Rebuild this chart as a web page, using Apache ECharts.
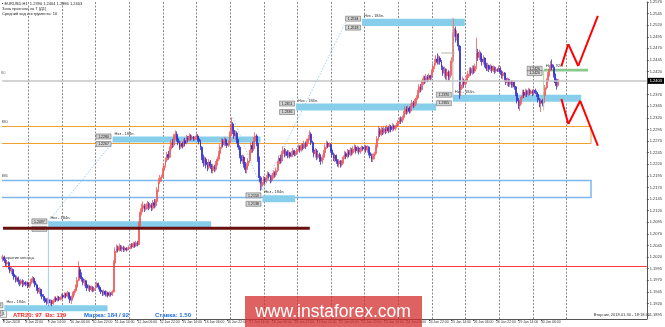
<!DOCTYPE html>
<html>
<head>
<meta charset="utf-8">
<script src="https://cdn.jsdelivr.net/npm/echarts@6.0.0/dist/echarts.min.js"></script>
<style>
html,body{margin:0;padding:0;background:#ffffff;overflow:hidden}
#chart{width:665px;height:327px}
</style>
</head>
<body>
<div id="chart"></div>
<script>
// ================= DATA (EURUSD, H1, 8 Jan 2018 06:00 .. 30 Jan 2018 18:00) =================
const firstOpen = 1.2015;
const closes = [
1.2019,1.2013,1.2005,1.2008,1.1997,1.1990,1.1993,1.1983,1.1977,1.1971,1.1975,1.1967,1.1963,1.1969,1.1961,1.1965,1.1962,1.1964,
1.1957,1.1963,1.1970,1.1974,1.1967,1.1960,1.1953,1.1945,1.1950,1.1939,1.1935,1.1931,1.1927,1.1923,1.1928,1.1921,1.1925,1.1920,1.1926,1.1931,1.1927,1.1933,1.1929,1.1932,
1.1937,1.1934,1.1940,1.1936,1.1943,1.1935,1.1927,1.1933,1.1941,1.1947,1.1955,1.1970,1.1993,1.1980,1.1973,1.1965,1.1969,1.1960,1.1953,1.1957,1.1950,1.1955,1.1948,1.1952,
1.1957,1.1963,1.1955,1.1949,1.1945,1.1941,1.1946,1.1939,1.1943,1.1937,1.1942,1.1939,1.1945,1.2007,1.2033,1.2039,1.2035,1.2043,1.2037,1.2041,1.2035,1.2039,1.2036,1.2038,
1.2041,1.2045,1.2042,1.2049,1.2044,1.2051,1.2047,1.2091,1.2117,1.2125,1.2131,1.2123,1.2129,1.2135,1.2127,1.2133,1.2125,1.2137,1.2131,1.2140,1.2165,1.2183,1.2189,1.2192,
1.2207,1.2217,1.2229,1.2241,1.2235,1.2253,1.2267,1.2261,1.2279,1.2285,1.2275,1.2267,1.2257,1.2265,1.2259,1.2271,1.2265,1.2277,1.2273,1.2281,1.2275,1.2279,1.2274,1.2277,
1.2281,1.2275,1.2269,1.2257,1.2235,1.2223,1.2231,1.2219,1.2213,1.2225,1.2217,1.2207,1.2215,1.2209,1.2221,1.2231,1.2243,1.2257,1.2269,1.2263,1.2273,1.2265,1.2261,1.2267,
1.2285,1.2307,1.2293,1.2281,1.2287,1.2271,1.2257,1.2239,1.2227,1.2235,1.2221,1.2209,1.2217,1.2227,1.2245,1.2261,1.2253,1.2271,1.2281,1.2265,1.2233,1.2191,1.2173,1.2181,
1.2189,1.2183,1.2191,1.2199,1.2193,1.2185,1.2193,1.2201,1.2197,1.2207,1.2221,1.2233,1.2227,1.2243,1.2251,1.2241,1.2247,1.2239,1.2245,1.2237,1.2243,1.2249,1.2241,1.2245,
1.2251,1.2257,1.2251,1.2261,1.2255,1.2265,1.2259,1.2269,1.2275,1.2285,1.2267,1.2251,1.2243,1.2249,1.2235,1.2241,1.2231,1.2227,1.2235,1.2245,1.2257,1.2265,1.2259,1.2263,
1.2251,1.2241,1.2233,1.2239,1.2227,1.2221,1.2227,1.2219,1.2225,1.2235,1.2243,1.2237,1.2247,1.2241,1.2251,1.2245,1.2253,1.2257,1.2249,1.2255,1.2247,1.2253,1.2257,1.2253,
1.2259,1.2251,1.2257,1.2245,1.2239,1.2231,1.2237,1.2243,1.2257,1.2275,1.2293,1.2285,1.2295,1.2289,1.2297,1.2291,1.2299,1.2293,1.2301,1.2295,1.2303,1.2297,1.2301,1.2305,
1.2311,1.2317,1.2313,1.2321,1.2329,1.2339,1.2333,1.2341,1.2335,1.2345,1.2353,1.2347,1.2355,1.2363,1.2375,1.2387,1.2381,1.2395,1.2405,1.2399,1.2409,1.2403,1.2411,1.2407,
1.2419,1.2431,1.2439,1.2447,1.2441,1.2449,1.2441,1.2429,1.2417,1.2425,1.2411,1.2419,1.2407,1.2415,1.2443,1.2495,1.2513,1.2495,1.2501,1.2475,1.2381,1.2391,1.2401,1.2393,
1.2399,1.2407,1.2415,1.2423,1.2417,1.2427,1.2421,1.2431,1.2461,1.2451,1.2459,1.2447,1.2441,1.2449,1.2435,1.2427,1.2433,1.2425,1.2431,1.2423,1.2429,1.2421,1.2425,1.2423,
1.2427,1.2419,1.2411,1.2417,1.2405,1.2397,1.2403,1.2393,1.2399,1.2391,1.2397,1.2387,1.2373,1.2357,1.2347,1.2355,1.2365,1.2375,1.2369,1.2377,1.2371,1.2379,1.2373,1.2377,
1.2373,1.2379,1.2375,1.2371,1.2359,1.2351,1.2357,1.2353,1.2369,1.2385,1.2399,1.2413,1.2425,1.2435,1.2429,1.2415,1.2401,1.2390,1.2403
];
const highs = [
1.2025,1.2023,1.2017,1.2013,1.2011,1.2001,1.1999,1.1995,1.1987,1.1981,1.1980,1.1978,1.1971,1.1973,1.1972,1.1969,1.1968,1.1967,
1.1967,1.1966,1.1973,1.1979,1.1977,1.1970,1.1963,1.1957,1.1955,1.1952,1.1943,1.1940,1.1935,1.1931,1.1932,1.1930,1.1929,1.1928,1.1930,1.1935,1.1935,1.1937,1.1936,1.1935,
1.1941,1.1941,1.1944,1.1943,1.1947,1.1945,1.1939,1.1937,1.1945,1.1951,1.1961,1.1977,1.2011,1.1999,1.1987,1.1977,1.1973,1.1971,1.1963,1.1961,1.1959,1.1958,1.1957,1.1955,
1.1961,1.1967,1.1965,1.1959,1.1953,1.1948,1.1950,1.1948,1.1947,1.1945,1.1946,1.1944,1.1949,1.2013,1.2041,1.2047,1.2045,1.2049,1.2046,1.2045,1.2044,1.2043,1.2041,1.2041,
1.2045,1.2048,1.2050,1.2053,1.2052,1.2055,1.2055,1.2097,1.2125,1.2135,1.2140,1.2135,1.2134,1.2141,1.2139,1.2137,1.2136,1.2143,1.2145,1.2145,1.2171,1.2190,1.2197,1.2198,
1.2213,1.2223,1.2235,1.2247,1.2249,1.2259,1.2273,1.2275,1.2285,1.2293,1.2291,1.2281,1.2271,1.2270,1.2269,1.2275,1.2277,1.2283,1.2281,1.2287,1.2285,1.2283,1.2281,1.2280,
1.2287,1.2285,1.2279,1.2273,1.2259,1.2241,1.2237,1.2235,1.2225,1.2231,1.2229,1.2221,1.2221,1.2219,1.2227,1.2237,1.2249,1.2263,1.2277,1.2275,1.2279,1.2276,1.2269,1.2271,
1.2291,1.2321,1.2311,1.2297,1.2293,1.2291,1.2275,1.2261,1.2245,1.2241,1.2239,1.2225,1.2223,1.2233,1.2251,1.2267,1.2269,1.2279,1.2289,1.2285,1.2269,1.2237,1.2195,1.2187,
1.2195,1.2193,1.2197,1.2205,1.2203,1.2197,1.2198,1.2207,1.2205,1.2213,1.2227,1.2239,1.2241,1.2249,1.2259,1.2255,1.2253,1.2251,1.2250,1.2247,1.2249,1.2255,1.2251,1.2249,
1.2255,1.2263,1.2261,1.2265,1.2265,1.2271,1.2269,1.2275,1.2283,1.2293,1.2289,1.2271,1.2257,1.2255,1.2253,1.2247,1.2245,1.2237,1.2241,1.2251,1.2263,1.2271,1.2269,1.2267,
1.2265,1.2255,1.2245,1.2243,1.2241,1.2231,1.2231,1.2229,1.2229,1.2239,1.2249,1.2247,1.2253,1.2251,1.2257,1.2255,1.2259,1.2263,1.2261,1.2260,1.2258,1.2257,1.2261,1.2259,
1.2263,1.2261,1.2261,1.2259,1.2249,1.2243,1.2243,1.2247,1.2263,1.2281,1.2303,1.2299,1.2301,1.2299,1.2303,1.2301,1.2305,1.2303,1.2307,1.2305,1.2309,1.2306,1.2305,1.2309,
1.2315,1.2321,1.2323,1.2325,1.2335,1.2345,1.2345,1.2347,1.2345,1.2351,1.2359,1.2357,1.2361,1.2369,1.2381,1.2393,1.2393,1.2401,1.2411,1.2411,1.2415,1.2413,1.2416,1.2413,
1.2425,1.2437,1.2447,1.2455,1.2459,1.2455,1.2453,1.2445,1.2433,1.2431,1.2427,1.2425,1.2423,1.2421,1.2451,1.2505,1.2534,1.2517,1.2509,1.2503,1.2477,1.2399,1.2409,1.2405,
1.2405,1.2413,1.2421,1.2429,1.2429,1.2433,1.2433,1.2437,1.2493,1.2469,1.2467,1.2463,1.2453,1.2455,1.2451,1.2439,1.2439,1.2435,1.2437,1.2433,1.2433,1.2431,1.2429,1.2427,
1.2433,1.2431,1.2423,1.2421,1.2419,1.2409,1.2407,1.2405,1.2403,1.2401,1.2401,1.2399,1.2389,1.2377,1.2363,1.2359,1.2369,1.2381,1.2381,1.2383,1.2381,1.2385,1.2383,1.2381,
1.2381,1.2383,1.2383,1.2379,1.2373,1.2363,1.2361,1.2361,1.2375,1.2391,1.2405,1.2419,1.2431,1.2443,1.2446,1.2435,1.2419,1.2405,1.2404
];
const lows = [
1.2010,1.2007,1.2000,1.1997,1.1993,1.1985,1.1983,1.1979,1.1971,1.1965,1.1967,1.1961,1.1957,1.1959,1.1955,1.1957,1.1957,1.1959,
1.1953,1.1953,1.1960,1.1965,1.1963,1.1955,1.1947,1.1941,1.1940,1.1935,1.1929,1.1925,1.1921,1.1917,1.1919,1.1915,1.1916,1.1914,1.1917,1.1922,1.1923,1.1924,1.1925,1.1926,
1.1928,1.1929,1.1931,1.1931,1.1933,1.1929,1.1921,1.1919,1.1929,1.1937,1.1943,1.1951,1.1967,1.1975,1.1967,1.1959,1.1957,1.1953,1.1947,1.1947,1.1945,1.1946,1.1944,1.1945,
1.1949,1.1953,1.1950,1.1945,1.1940,1.1936,1.1937,1.1935,1.1935,1.1933,1.1934,1.1935,1.1936,1.1943,1.2003,1.2029,1.2030,1.2032,1.2033,1.2031,1.2031,1.2032,1.2032,1.2034,
1.2035,1.2037,1.2038,1.2040,1.2040,1.2042,1.2043,1.2045,1.2085,1.2110,1.2119,1.2117,1.2120,1.2123,1.2121,1.2123,1.2119,1.2121,1.2125,1.2127,1.2137,1.2160,1.2177,1.2183,
1.2191,1.2203,1.2213,1.2225,1.2230,1.2233,1.2250,1.2255,1.2257,1.2273,1.2269,1.2261,1.2251,1.2253,1.2254,1.2257,1.2260,1.2263,1.2267,1.2270,1.2271,1.2272,1.2270,1.2271,
1.2273,1.2269,1.2263,1.2251,1.2229,1.2215,1.2217,1.2211,1.2205,1.2209,1.2210,1.2201,1.2200,1.2203,1.2205,1.2217,1.2227,1.2239,1.2253,1.2257,1.2259,1.2260,1.2255,1.2257,
1.2263,1.2281,1.2285,1.2275,1.2273,1.2265,1.2251,1.2233,1.2221,1.2221,1.2213,1.2201,1.2200,1.2211,1.2223,1.2241,1.2245,1.2249,1.2265,1.2259,1.2225,1.2181,1.2163,1.2165,
1.2175,1.2177,1.2179,1.2185,1.2187,1.2179,1.2181,1.2189,1.2191,1.2193,1.2203,1.2217,1.2221,1.2223,1.2237,1.2235,1.2237,1.2233,1.2235,1.2233,1.2235,1.2239,1.2237,1.2238,
1.2241,1.2247,1.2245,1.2247,1.2250,1.2253,1.2253,1.2257,1.2265,1.2271,1.2261,1.2245,1.2235,1.2235,1.2229,1.2231,1.2225,1.2219,1.2221,1.2229,1.2241,1.2253,1.2255,1.2257,
1.2245,1.2235,1.2227,1.2225,1.2221,1.2215,1.2213,1.2213,1.2215,1.2221,1.2231,1.2231,1.2233,1.2235,1.2237,1.2239,1.2241,1.2247,1.2243,1.2245,1.2241,1.2243,1.2247,1.2249,
1.2247,1.2245,1.2245,1.2239,1.2233,1.2225,1.2225,1.2231,1.2239,1.2253,1.2271,1.2279,1.2281,1.2283,1.2285,1.2285,1.2287,1.2287,1.2289,1.2289,1.2291,1.2293,1.2293,1.2297,
1.2301,1.2307,1.2307,1.2309,1.2315,1.2325,1.2327,1.2329,1.2329,1.2331,1.2339,1.2341,1.2343,1.2349,1.2359,1.2371,1.2375,1.2379,1.2391,1.2393,1.2395,1.2397,1.2399,1.2401,
1.2403,1.2415,1.2425,1.2433,1.2435,1.2435,1.2435,1.2423,1.2411,1.2407,1.2403,1.2399,1.2401,1.2399,1.2411,1.2439,1.2485,1.2483,1.2487,1.2465,1.2361,1.2367,1.2383,1.2385,
1.2389,1.2393,1.2401,1.2409,1.2411,1.2413,1.2415,1.2417,1.2425,1.2443,1.2445,1.2441,1.2433,1.2435,1.2429,1.2421,1.2421,1.2419,1.2421,1.2417,1.2419,1.2415,1.2417,1.2419,
1.2419,1.2413,1.2405,1.2403,1.2399,1.2391,1.2389,1.2387,1.2387,1.2385,1.2385,1.2381,1.2367,1.2351,1.2339,1.2335,1.2349,1.2361,1.2363,1.2365,1.2365,1.2367,1.2369,1.2371,
1.2367,1.2369,1.2371,1.2365,1.2353,1.2343,1.2333,1.2345,1.2349,1.2367,1.2381,1.2395,1.2409,1.2421,1.2423,1.2407,1.2395,1.2381,1.2386
];

// time-axis tick labels (every 16 bars)
const xTickLabels = ['8 Jan 2018','8 Jan 22:00','9 Jan 14:00','10 Jan 06:00','10 Jan 22:00','11 Jan 14:00','12 Jan 06:00','12 Jan 22:00',
  '15 Jan 14:00','16 Jan 06:00','16 Jan 22:00','17 Jan 14:00','18 Jan 06:00','18 Jan 22:00','19 Jan 14:00','22 Jan 06:00','22 Jan 22:00',
  '23 Jan 14:00','24 Jan 06:00','24 Jan 22:00','25 Jan 14:00','26 Jan 06:00','26 Jan 22:00','29 Jan 14:00','30 Jan 06:00'];
const xTickStep = 16;
// price-axis tick labels
const yTicks = [1.1895,1.1920,1.1945,1.1970,1.1995,1.2020,1.2045,1.2070,1.2095,1.2120,1.2145,1.2170,1.2195,1.2220,
  1.2245,1.2270,1.2295,1.2320,1.2345,1.2370,1.2395,1.2420,1.2445,1.2470,1.2495,1.2520,1.2545,1.2570];

// control zones (bar index from/to, price high/low)
const zoneFrom = [1, 32.4, 78.2, 185.2, 209.2, 321.1, 256.3, 385.9];
const zoneTo   = [74.6, 148.6, 183.8, 208.5, 309.2, 412.7, 329.6, 417.6];
const zoneHigh = [1.1916, 1.2097, 1.2280, 1.2153, 1.2351, 1.2370, 1.2534, 1.2426];
const zoneLow  = [1.1903, 1.2084, 1.2267, 1.2138, 1.2336, 1.2355, 1.2518, 1.2420];
const zoneNote = ['Нкз - 184п.','Нкз - 184п.','Нкз - 184п.','Нкз - 184п.','Нкз - 184п.','Нкз - 184п.','Нкз - 184п.','Нкз - 92п.'];

// level rectangles (outline only)
const levelHigh = [1.2303, 1.2187];
const levelLow  = [1.2265, 1.2149];
const levelTo = 419.7;
const levelTags = ['380', '386'];

// horizontal levels
const monthOpen = 1.2009;
const darkLevel = 1.2082;
const darkLevelTo = 219;

// forecast zig-zags
const upPathX = [398.6, 403.5, 410.6, 424.6];
const upPathY = [1.2432, 1.2479, 1.2432, 1.2540];
const downPathX = [398.6, 403.5, 412.0, 424.6];
const downPathY = [1.2361, 1.2307, 1.2357, 1.2260];

// helper drawing lines [x1, y1, x2, y2]
const guideLines = [[32.4,1.2097,78.2,1.2267],[164.1,1.2321,185.2,1.2164],[185.2,1.2164,245.1,1.2529]];
const blueVert = [[32.4,1.2097,32.4,1.1916]];
const grayLines = [[321.1,1.2536,321.1,1.2364],[312.7,1.2460,322.5,1.2460]];
const greenVert = [[385.9,1.2422,385.9,1.2336]];

const slotCount = 460;

// ================= BUILD =================
const months = ['Jan','Feb','Mar'];
const barTimes = [];
let t = Date.UTC(2018, 0, 8, 6);
while (barTimes.length < slotCount) {
  const wd = new Date(t).getUTCDay();
  if (wd !== 0 && wd !== 6) barTimes.push(t);
  t += 3600000;
}
const categories = barTimes.map(tt => {
  const d = new Date(tt);
  return d.getUTCDate() + ' ' + months[d.getUTCMonth()] + ' ' + String(d.getUTCHours()).padStart(2, '0') + ':00';
});
const dayStarts = [];
barTimes.forEach((tt, i) => {
  if (i > 0 && new Date(tt).getUTCHours() === 0 && i <= closes.length + 6) dayStarts.push(i);
});

const candles = closes.map((c, i) => {
  const o = i === 0 ? firstOpen : closes[i - 1];
  return [o, c, Math.min(lows[i], o, c), Math.max(highs[i], o, c)];
});
const last = candles[candles.length - 1];
const lastClose = last[1];

function toPx(api, i, v) {
  const b = Math.floor(i);
  const p = api.coord([b, v]);
  return [p[0] + (i - b) * api.size([1, 0])[0], p[1]];
}
const FONT = '"Liberation Sans", Arial, sans-serif';
function txt(x, y, text, size, fill, align, valign, weight) {
  return {type: 'text', x: x, y: y, style: {text: text, fill: fill, font: (weight || 'normal') + ' ' + size + 'px ' + FONT,
    align: align || 'left', textAlign: align || 'left', verticalAlign: valign || 'middle', textVerticalAlign: valign || 'middle'}};
}
function priceTag(xr, yc, v) {
  return {type: 'group', children: [
    {type: 'rect', shape: {x: xr - 16, y: yc - 2.5, width: 15, height: 5}, style: {fill: '#d4d4d4', stroke: '#555', lineWidth: 0.5}},
    txt(xr - 8.5, yc + 0.2, v.toFixed(4), 3.5, '#111', 'center', 'middle')
  ]};
}

const segs = [];
guideLines.forEach(s => segs.push({s: s, k: 0}));
for (let i = 0; i < upPathX.length - 1; i++) segs.push({s: [upPathX[i], upPathY[i], upPathX[i+1], upPathY[i+1]], k: 1});
for (let i = 0; i < downPathX.length - 1; i++) segs.push({s: [downPathX[i], downPathY[i], downPathX[i+1], downPathY[i+1]], k: 1});
blueVert.forEach(s => segs.push({s: s, k: 2}));
grayLines.forEach(s => segs.push({s: s, k: 3}));
greenVert.forEach(s => segs.push({s: s, k: 4}));
segs.push({s: [0, darkLevel, darkLevelTo, darkLevel], k: 5});
const segStyles = [
  {stroke: '#8cc4ee', lineWidth: 0.8, lineDash: [1.5, 1.5]},
  {stroke: '#ff0000', lineWidth: 2},
  {stroke: '#9fd0f0', lineWidth: 1},
  {stroke: '#b4b4b4', lineWidth: 1},
  {stroke: '#a6d6a6', lineWidth: 1},
  {stroke: '#6a1010', lineWidth: 3}
];

const chart = echarts.init(document.getElementById('chart'), null, {renderer: 'canvas'});
chart.setOption({
  animation: false,
  backgroundColor: '#ffffff',
  textStyle: {fontFamily: FONT},
  grid: {left: -1.71, top: 1, width: slotCount * 1.42, height: 318, containLabel: false},
  xAxis: {
    type: 'category', data: categories, boundaryGap: true,
    axisLine: {show: true, lineStyle: {color: '#555', width: 1}},
    axisTick: {show: true, alignWithLabel: true, length: 2, lineStyle: {color: '#555'},
      interval: (i) => i % xTickStep === 0 && i / xTickStep < xTickLabels.length},
    axisLabel: {show: true, interval: (i) => i % xTickStep === 0 && i / xTickStep < xTickLabels.length,
      formatter: (v, i) => xTickLabels[i / xTickStep] || '', fontSize: 3.4, color: '#333', align: 'left', margin: 2},
    splitLine: {show: false}
  },
  yAxis: {
    type: 'value', position: 'right', min: 1.18864, max: 1.2570,
    axisLine: {show: true, lineStyle: {color: '#555', width: 1}},
    axisTick: {show: true, length: 2, lineStyle: {color: '#555'}, customValues: yTicks},
    axisLabel: {show: true, customValues: yTicks, formatter: v => v.toFixed(4), fontSize: 4, color: '#333', margin: 3},
    splitLine: {show: false}
  },
  series: [
    { // vertical dotted day separators
      type: 'custom', z: 0, silent: true, clip: true,
      data: dayStarts.map(d => [d, 1.22]),
      renderItem: (params, api) => {
        const x = Math.round(api.coord([api.value(0), 1.22])[0]) + 0.5;
        const cs = params.coordSys;
        return {type: 'line', shape: {x1: x, y1: cs.y, x2: x, y2: cs.y + cs.height},
          style: {stroke: '#8a8a8a', lineWidth: 1, lineDash: [2, 1.5]}};
      }
    },
    { // level rectangles (outlines)
      type: 'custom', z: 1, silent: true, clip: true,
      data: levelHigh.map((h, i) => [0, h]),
      renderItem: (params, api) => {
        const i = params.dataIndex;
        const a = toPx(api, 0, levelHigh[i]);
        const b = toPx(api, levelTo, levelLow[i]);
        const st = i === 0 ? {stroke: '#f2a031', lineWidth: 1, fill: null} : {stroke: '#7db7ee', lineWidth: 1.5, fill: null};
        return {type: 'group', children: [
          {type: 'rect', shape: {x: a[0] - 2, y: Math.round(a[1]) + 0.5, width: b[0] - a[0] + 2, height: Math.round(b[1]) - Math.round(a[1])}, style: st},
          txt(1, a[1] - 3.5, levelTags[i], 4, '#444', 'left', 'middle')
        ]};
      }
    },
    { // control zones
      type: 'custom', z: 1, silent: true, clip: false,
      data: zoneFrom.map((f, i) => [Math.round(f), zoneHigh[i]]),
      renderItem: (params, api) => {
        const i = params.dataIndex;
        const a = toPx(api, zoneFrom[i], zoneHigh[i]);
        const b = toPx(api, zoneTo[i], zoneLow[i]);
        return {type: 'group', children: [
          {type: 'rect', shape: {x: a[0], y: a[1], width: b[0] - a[0], height: b[1] - a[1]},
            style: {fill: i === zoneFrom.length - 1 ? '#8bc98b' : '#87ceeb'}},
          txt(a[0] + 2, a[1] - 3, zoneNote[i], 4, '#333', 'left', 'middle'),
          priceTag(a[0] - 0.5, a[1], zoneHigh[i]),
          priceTag(a[0] - 0.5, b[1] + 1.5, zoneLow[i])
        ]};
      }
    },
    {
      type: 'candlestick', z: 2, name: 'EURUSD,H1',
      data: candles, barWidth: 1.4,
      itemStyle: {color: '#f05a5a', color0: '#2e2ed0', borderColor: '#f05a5a', borderColor0: '#2e2ed0', borderWidth: 0.8},
      markLine: {
        symbol: 'none', silent: true, animation: false,
        data: [
          {yAxis: monthOpen, lineStyle: {color: '#ff3b3b', width: 1, type: 'solid'}, label: {show: false}},
          {yAxis: lastClose, lineStyle: {color: '#c4c4c4', width: 1.5, type: 'solid'},
            label: {show: true, position: 'end', formatter: lastClose.toFixed(4), color: '#fff', backgroundColor: '#000',
              fontSize: 4, padding: [1, 2, 1, 2], distance: 1}}
        ]
      }
    },
    { // drawn lines
      type: 'custom', z: 3, silent: true, clip: false,
      data: segs.map(s => [Math.round(s.s[0]), s.s[1]]),
      renderItem: (params, api) => {
        const sg = segs[params.dataIndex];
        const p1 = toPx(api, sg.s[0], sg.s[1]);
        const p2 = toPx(api, sg.s[2], sg.s[3]);
        return {type: 'line', shape: {x1: p1[0], y1: p1[1], x2: p2[0], y2: p2[1]}, style: segStyles[sg.k]};
      }
    }
  ],
  graphic: [
    txt(2, 3.5, '▪ EURUSD,H1  ' + [last[0], last[3], last[2], last[1]].map(v => v.toFixed(4)).join(' '), 4, '#222'),
    txt(2, 8.5, 'Зона прогноза на 7 (Д1)', 4, '#222'),
    txt(2, 13.5, 'Средний ход инструмента: 10', 4, '#222'),
    txt(1, 73, '80', 4, '#777'),
    txt(1, 257.5, 'Открытие месяца', 4, '#333'),
    {type: 'rect', shape: {x: 0.5, y: 310.5, width: 6, height: 7}, style: {fill: '#f2f2f2', stroke: '#999', lineWidth: 0.8}},
    txt(3.5, 314.2, '1', 4, '#555', 'center'),
    txt(13, 315, 'ATR20: 97  Вх: 119', 6, '#ff2424', 'left', 'middle', 'bold'),
    txt(84, 315, 'Маржа: 184 / 92', 6, '#1f6fe0', 'left', 'middle', 'bold'),
    txt(155, 315, 'Ставка: 1.50', 6, '#1f6fe0', 'left', 'middle', 'bold'),
    txt(650, 315, 'Вторник, 2018.01.30 - 18:18:35', 4, '#333', 'right'),
    {type: 'rect', z: 100, shape: {x: 245, y: 296, width: 177, height: 31}, style: {fill: 'rgba(212,45,45,0.75)'}},
    Object.assign(txt(333, 312, 'www.instaforex.com', 17.5, '#ffffff', 'center'), {z: 101})
  ]
});
</script>
</body>
</html>
